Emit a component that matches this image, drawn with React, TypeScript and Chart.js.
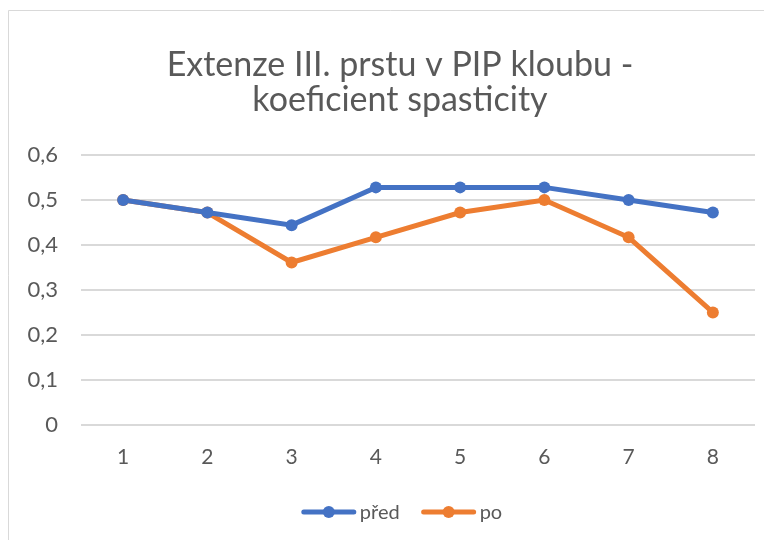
import React, { useEffect, useRef } from "react";
import { Chart, registerables } from "chart.js";

Chart.register(...registerables);

const categories = ["1", "2", "3", "4", "5", "6", "7", "8"];
const predValues = [0.5, 0.472, 0.444, 0.528, 0.528, 0.528, 0.5, 0.472];
const poValues = [0.5, 0.472, 0.361, 0.417, 0.472, 0.5, 0.417, 0.25];
const titleLines = ["Extenze III. prstu v PIP kloubu -", "koeficient spasticity"];
const seriesNames = ["před", "po"];
const seriesColors = ["#4472C4", "#ED7D31"];

const FONT = "Lato, 'Open Sans', sans-serif";
const TEXT = "#595959";

const frameTitleLegend = {
  id: "frameTitleLegend",
  beforeDraw(chart: any) {
    const ctx = chart.ctx;
    ctx.save();
    ctx.fillStyle = "#ffffff";
    ctx.fillRect(0, 0, chart.width, chart.height);
    ctx.strokeStyle = "#d9d9d9";
    ctx.lineWidth = 1;
    ctx.beginPath();
    ctx.moveTo(0.5, chart.height);
    ctx.lineTo(0.5, 2.5);
    ctx.lineTo(chart.width, 2.5);
    ctx.stroke();
    ctx.restore();
  },
  afterDraw(chart: any) {
    const ctx = chart.ctx;
    ctx.save();
    const cx = chart.width / 2 + 10;
    // title
    ctx.font = `34px ${FONT}`;
    ctx.fillStyle = TEXT;
    ctx.textAlign = "center";
    ctx.textBaseline = "middle";
    titleLines.forEach((line, i) => {
      ctx.fillText(line, cx, 57 + i * 35.5);
    });
    // legend
    ctx.font = `20px ${FONT}`;
    const lineW = 54;
    const gap = 4;
    const between = 22;
    const widths = seriesNames.map((n) => lineW + gap + ctx.measureText(n).width);
    const total = widths.reduce((a, b) => a + b, 0) + between;
    let x = chart.width / 2 + 12 - total / 2;
    const y = 504;
    seriesNames.forEach((name, i) => {
      ctx.strokeStyle = seriesColors[i];
      ctx.lineWidth = 5;
      ctx.lineCap = "round";
      ctx.beginPath();
      ctx.moveTo(x + 2, y);
      ctx.lineTo(x + lineW - 2, y);
      ctx.stroke();
      ctx.fillStyle = seriesColors[i];
      ctx.beginPath();
      ctx.arc(x + lineW / 2, y, 6, 0, Math.PI * 2);
      ctx.fill();
      ctx.fillStyle = TEXT;
      ctx.textBaseline = "middle";
      ctx.textAlign = "left";
      ctx.fillText(name, x + lineW + gap, y + 1);
      x += widths[i] + between;
    });
    ctx.restore();
  },
};

export default function App() {
  const ref = useRef<HTMLCanvasElement>(null);
  useEffect(() => {
    if (!ref.current) return;
    const chart = new Chart(ref.current, {
      type: "line",
      data: {
        labels: categories,
        datasets: [
          {
            label: seriesNames[0],
            data: predValues,
            borderColor: seriesColors[0],
            backgroundColor: seriesColors[0],
            borderWidth: 5,
            pointRadius: 6,
            pointHoverRadius: 6,
            pointBorderWidth: 0,
            tension: 0,
          },
          {
            label: seriesNames[1],
            data: poValues,
            borderColor: seriesColors[1],
            backgroundColor: seriesColors[1],
            borderWidth: 5,
            pointRadius: 6,
            pointHoverRadius: 6,
            pointBorderWidth: 0,
            tension: 0,
          },
        ],
      },
      options: {
        animation: false,
        responsive: false,
        layout: { padding: { top: 147, right: 17, bottom: 50, left: 0 } },
        plugins: {
          legend: { display: false },
          tooltip: { enabled: false },
          title: { display: false },
        },
        scales: {
          x: {
            offset: true,
            grid: { display: false, drawTicks: false },
            border: { display: false },
            ticks: { color: TEXT, font: { family: FONT, size: 21 }, padding: 20 },
          },
          y: {
            min: 0,
            max: 0.6,
            afterFit: (s: any) => {
              s.width = 73;
            },
            grid: { color: "#d9d9d9", lineWidth: 2, drawTicks: false },
            border: { display: false },
            ticks: {
              stepSize: 0.1,
              color: TEXT,
              padding: 23,
              font: { family: FONT, size: 22 },
              callback: (v: any) => (Math.round(Number(v) * 10) / 10).toString().replace(".", ","),
            },
          },
        },
      },
      plugins: [frameTitleLegend],
    });
    return () => chart.destroy();
  }, []);
  return <canvas ref={ref} width={764} height={532} />;
}
